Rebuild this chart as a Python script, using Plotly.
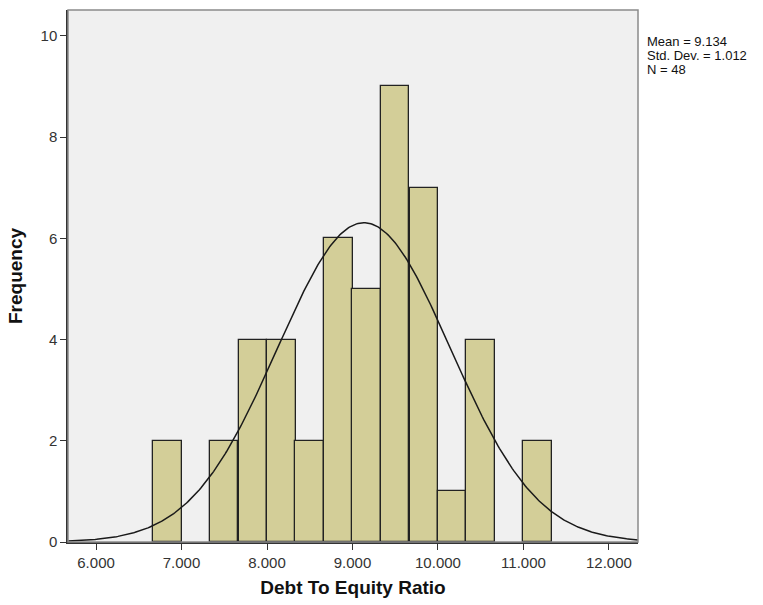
import numpy as np
import plotly.graph_objects as go

# Histogram bins (left edges) and frequencies
bin_left = [6.667, 7.000, 7.333, 7.667, 8.000, 8.333, 8.667, 9.000, 9.333, 9.667, 10.000, 10.333, 10.667, 11.000]
counts = [2, 0, 2, 4, 4, 2, 6, 5, 9, 7, 1, 4, 0, 2]
bin_width = 1 / 3

# Summary statistics
mean = 9.134
std = 1.012
n = 48

x_ticks = [6, 7, 8, 9, 10, 11, 12]
x_tick_text = ["6.000", "7.000", "8.000", "9.000", "10.000", "11.000", "12.000"]
y_ticks = [0, 2, 4, 6, 8, 10]

x_range = [5.672, 12.34]
y_range = [0, 10.51]

centers = [l + bin_width / 2 for l, c in zip(bin_left, counts) if c > 0]
heights = [c for c in counts if c > 0]

fig = go.Figure()
fig.add_trace(go.Bar(
    x=centers, y=heights, width=bin_width,
    marker=dict(color="#d3ce98", line=dict(color="#222222", width=1.3)),
    hoverinfo="skip",
))

# Fitted normal curve scaled to counts
xc = np.linspace(x_range[0], x_range[1], 400)
yc = n * bin_width / (std * np.sqrt(2 * np.pi)) * np.exp(-0.5 * ((xc - mean) / std) ** 2)
fig.add_trace(go.Scatter(x=xc, y=yc, mode="lines",
                         line=dict(color="#1a1a1a", width=1.5), hoverinfo="skip"))

fig.add_shape(type="rect", xref="paper", yref="paper", x0=0, y0=0, x1=1, y1=1,
              line=dict(color="#8a8a8a", width=1.5), layer="above")

font_family = "Liberation Sans, Arial, sans-serif"

stat_lines = [f"Mean = {mean:.3f}", f"Std. Dev. = {std:.3f}", f"N = {n}"]
stat_y = [0.941, 0.915, 0.889]
annotations = [dict(xref="paper", yref="paper", x=1.012, y=yy, xanchor="left", yanchor="middle",
                    showarrow=False, text=t, font=dict(size=13, color="#111111"))
               for t, yy in zip(stat_lines, stat_y)]

fig.update_layout(
    width=763, height=605,
    margin=dict(l=68, r=125, t=10, b=57),
    paper_bgcolor="white", plot_bgcolor="#f0f0f0",
    showlegend=False, bargap=0,
    font=dict(family=font_family, size=15, color="#222222"),
    xaxis=dict(range=x_range, tickvals=x_ticks, ticktext=x_tick_text,
               showgrid=False, zeroline=False, showline=True, linecolor="#333333",
               linewidth=1.5, ticks="outside", ticklen=6, tickcolor="#333333",
               tickfont=dict(size=15, color="#333333"),
               title=dict(text="<b>Debt To Equity Ratio</b>", font=dict(size=19, color="#111111"),
                          standoff=11)),
    yaxis=dict(range=y_range, tickvals=y_ticks,
               showgrid=False, zeroline=False, showline=True, linecolor="#333333",
               linewidth=1.5, ticks="outside", ticklen=6, tickcolor="#333333",
               tickfont=dict(size=15, color="#333333"),
               title=dict(text="<b>Frequency</b>", font=dict(size=19, color="#111111"),
                          standoff=13)),
    annotations=annotations,
)

fig.write_html("out.html")
